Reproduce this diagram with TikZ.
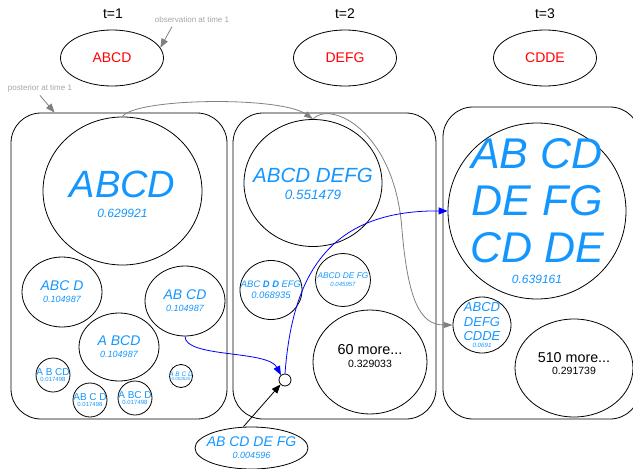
\documentclass[tikz,border=0pt]{standalone}
\usepackage{fontspec}
\setmainfont{Liberation Sans}
\usetikzlibrary{shapes.geometric,arrows.meta}
\definecolor{hypblue}{RGB}{20,150,255}
\newcommand{\fsz}[2]{\fontsize{#1}{#2}\selectfont}
\newcommand{\nm}[2]{{\fsz{#1}{#1}#2}}
\tikzset{
  obsnode/.style={draw, ellipse, minimum width=103, minimum height=56, inner sep=0, text=red, font=\fsz{14}{14}},
  tlabel/.style={font=\fsz{14}{14}},
  hypnode/.style={draw, ellipse, inner sep=0},
  hyptext/.style={align=center, inner sep=0, text=hypblue},
  resttext/.style={align=center, inner sep=0},
  slicebox/.style={draw, rounded corners=30, inner sep=0},
  note/.style={text=black!35, font=\fsz{8}{8}},
  notearrow/.style={draw=gray, -{Triangle[length=9pt,width=7pt]}},
  postarrow/.style={draw=gray, -{Triangle[length=9pt,width=6pt]}},
  patharrow/.style={draw=blue, -{Triangle[length=9pt,width=7pt]}}
}
\begin{document}
\begin{tikzpicture}[x=1pt, y=-1pt, line width=0.8pt]
  \useasboundingbox (0,0) rectangle (633,469);
  % time steps and observations
  \node (t1) [tlabel] at (113,14) {t=1};
  \node (t2) [tlabel] at (345,14) {t=2};
  \node (t3) [tlabel] at (545,14) {t=3};
  \node (o1) [obsnode] at (112,58) {ABCD};
  \node (o2) [obsnode] at (345,58) {DEFG};
  \node (o3) [obsnode] at (545,58) {CDDE};
  \node (obs) [note] at (192,20) {observation at time 1};
  \node (post) [note] at (40,88) {posterior at time 1};
  % posterior slices
  \node (s1) [slicebox, minimum width=216, minimum height=306] at (119,266) {};
  \node (s2) [slicebox, minimum width=203, minimum height=306] at (334.5,266) {};
  \node (s3) [slicebox, minimum width=197, minimum height=312] at (541.5,263) {};
  \coordinate (p1) at ([xshift=44pt]s1.north west);
  % t=1 hypotheses
  \node (a1) [hypnode, minimum width=159, minimum height=148, label={[hyptext, font=\fsz{38}{20}\itshape, yshift=-3pt]center:ABCD\\\nm{12}{0.629921}}] at (122.5,191) {};
  \node (a2) [hypnode, minimum width=80, minimum height=70, label={[hyptext, font=\fsz{14}{12}\itshape]center:ABC D\\\nm{9}{0.104987}}] at (62,292) {};
  \node (a3) [hypnode, minimum width=80, minimum height=70, label={[hyptext, font=\fsz{14}{12}\itshape]center:AB CD\\\nm{9}{0.104987}}] at (185,301) {};
  \node (a4) [hypnode, minimum width=80, minimum height=68, label={[hyptext, font=\fsz{14}{12}\itshape]center:A BCD\\\nm{9}{0.104987}}] at (119,347) {};
  \node (a5) [hypnode, minimum width=34, minimum height=34, label={[hyptext, font=\fsz{10}{6.5}]center:A B CD\\\nm{6}{0.017498}}] at (53,375) {};
  \node (a6) [hypnode, minimum width=34, minimum height=34, label={[hyptext, font=\fsz{10}{6.5}]center:AB C D\\\nm{6}{0.017498}}] at (90,400) {};
  \node (a7) [hypnode, minimum width=34, minimum height=34, label={[hyptext, font=\fsz{10}{6.5}]center:A BC D\\\nm{6}{0.017498}}] at (135,398) {};
  \node (a8) [hypnode, minimum width=23, minimum height=23, label={[hyptext, font=\fsz{6.5}{4.5}\itshape]center:A B C D\\\nm{4.5}{0.002625}}] at (181,376) {};
  % t=2 hypotheses
  \node (b1) [hypnode, minimum width=138, minimum height=127, label={[hyptext, font=\fsz{20.5}{17}\itshape, yshift=-1pt]center:ABCD DEFG\\\nm{13.5}{0.551479}}] at (313,183) {};
  \node (b2) [hypnode, minimum width=62, minimum height=59, label={[hyptext, font=\fsz{9.4}{11}\itshape]center:ABC \textbf{D D} EFG\\\nm{9.4}{0.068935}}] at (271,290) {};
  \node (b3) [hypnode, minimum width=55, minimum height=53, label={[hyptext, font=\fsz{8.3}{8}\itshape]center:ABCD DE FG\\\nm{6}{0.045957}}] at (343,280) {};
  \node (b4) [hypnode, minimum width=114, minimum height=104, label={[resttext, font=\fsz{14.4}{13}, yshift=6pt]center:60 more...\\\nm{10.5}{0.329033}}] at (370,362) {};
  \node (j) [draw, circle, minimum size=12, inner sep=0, fill=white] at (285,380) {};
  % t=3 hypotheses
  \node (c1) [hypnode, minimum width=178, minimum height=176, label={[hyptext, font=\fsz{43}{47}\itshape]center:AB CD\\DE FG\\CD DE\\[-26pt]\nm{12}{0.639161}}] at (537,211) {};
  \node (c2) [hypnode, minimum width=58, minimum height=56, label={[hyptext, font=\fsz{13}{14.5}\itshape]center:ABCD\\DEFG\\CDDE\\[-7.5pt]\nm{6.2}{0.0691}}] at (482,325) {};
  \node (c3) [hypnode, minimum width=118, minimum height=98, label={[resttext, font=\fsz{14.3}{12}, yshift=4pt]center:510 more...\\\nm{10.5}{0.291739}}] at (574,368) {};
  % new hypothesis
  \node (e) [hypnode, minimum width=113, minimum height=42, label={[hyptext, font=\fsz{14}{12}\itshape]center:AB CD DE FG\\\nm{9}{0.004596}}] at (251.5,448) {};
  % annotations
  \draw[notearrow] ([xshift=-20pt]obs.south) -- (o1.12);
  \draw[notearrow] (post.south) -- (p1);
  % transitions
  \draw[postarrow] (a1.north) .. controls (135,98) and (280,96) .. (b1.north);
  \draw[postarrow] (b1.north) .. controls (330,100) and (395,130) .. (402,230) .. controls (408,300) and (420,325) .. (c2.west);
  \draw[patharrow] (a3.south) .. controls (185,358) and (268,350) .. (j.130);
  \draw[patharrow] (j.north) .. controls (292,280) and (325,210) .. (c1.west);
  \draw[-{Triangle[length=9pt,width=7pt]}] ([xshift=-8pt]e.north) -- (j.225);
\end{tikzpicture}
\end{document}
